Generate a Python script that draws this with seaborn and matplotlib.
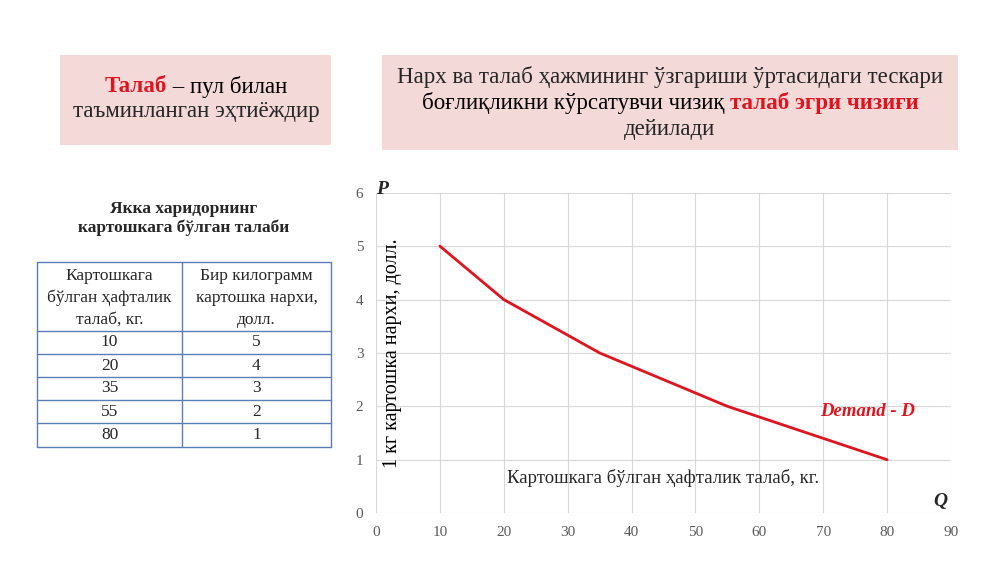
import matplotlib
matplotlib.use("Agg")
import matplotlib.pyplot as plt
import seaborn as sns
import pandas as pd
from matplotlib.patches import Rectangle

# data
quantity = [10, 20, 35, 55, 80]
price = [5, 4, 3, 2, 1]
x_ticks = list(range(0, 100, 10))
y_ticks = list(range(0, 7))

sns.set_theme(style="whitegrid")
plt.rcParams['font.family'] = ['Liberation Serif', 'DejaVu Serif']

RED = "#e0141e"
PINK = "#f4d9d9"
BLUE = "#5a7fb8"

fig = plt.figure(figsize=(10, 5.62), dpi=100)
W, H = 1000, 562

def fx(px):
    return px / W

def fy(py):
    return 1 - py / H

def two_part(x_center, y, black, red, size, red_first=False):
    # draws black+red text on one line, centred at x_center
    r = fig.canvas.get_renderer()
    parts = [(red, RED, "bold"), (black, "black", "normal")] if red_first else \
            [(black, "black", "normal"), (red, RED, "bold")]
    widths = []
    for s, c, w in parts:
        t = fig.text(0, 0, s, fontsize=size, fontweight=w)
        widths.append(t.get_window_extent(r).width)
        t.remove()
    x = x_center * W - sum(widths) / 2
    for (s, c, w), wd in zip(parts, widths):
        fig.text(x / W, fy(y), s, color=c, fontsize=size, fontweight=w, ha="left", va="center")
        x += wd

# pink header boxes
fig.patches.append(Rectangle((fx(60), fy(145)), fx(271), 90 / H, transform=fig.transFigure,
                             facecolor=PINK, edgecolor="none", zorder=0))
fig.patches.append(Rectangle((fx(382), fy(150)), fx(576), 95 / H, transform=fig.transFigure,
                             facecolor=PINK, edgecolor="none", zorder=0))
two_part(fx(196), 87, " – пул билан", "Талаб", 16.5, red_first=True)
fig.text(fx(196), fy(111), "таъминланган эҳтиёждир", fontsize=16.5, ha="center", va="center")
fig.text(fx(670), fy(77), "Нарх ва талаб ҳажмининг ўзгариши ўртасидаги тескари", fontsize=16.5, ha="center", va="center")
two_part(fx(670), 103, "боғлиқликни кўрсатувчи чизиқ ", "талаб эгри чизиғи", 16.5)
fig.text(fx(670), fy(129), "дейилади", fontsize=16.5, ha="center", va="center")

# table
fig.text(fx(184), fy(209), "Якка харидорнинг", fontsize=12.5, fontweight="bold", ha="center", va="center")
fig.text(fx(184), fy(228), "картошкага бўлган талаби", fontsize=12.5, fontweight="bold", ha="center", va="center")
rows_y = [262, 331, 354, 377, 400, 423, 447]
xl, xm, xr = 37, 182, 331
for y in rows_y:
    fig.lines.append(plt.Line2D([fx(xl), fx(xr)], [fy(y), fy(y)], transform=fig.transFigure, color=BLUE, lw=1))
for x in (xl, xm, xr):
    fig.lines.append(plt.Line2D([fx(x), fx(x)], [fy(262), fy(447)], transform=fig.transFigure, color=BLUE, lw=1))
for i, t in enumerate(["Картошкага", "бўлган ҳафталик", "талаб, кг."]):
    fig.text(fx((xl + xm) / 2), fy(276 + i * 22), t, fontsize=12.5, ha="center", va="center")
for i, t in enumerate(["Бир килограмм", "картошка нархи,", "долл."]):
    fig.text(fx((xm + xr) / 2), fy(276 + i * 22), t, fontsize=12.5, ha="center", va="center")
for i, (q, p) in enumerate(zip(quantity, price)):
    yc = (rows_y[i + 1] + rows_y[i + 2]) / 2
    fig.text(fx((xl + xm) / 2), fy(yc), str(q), fontsize=12.5, ha="center", va="center")
    fig.text(fx((xm + xr) / 2), fy(yc), str(p), fontsize=12.5, ha="center", va="center")

# chart
ax = fig.add_axes([0.376, 0.087, 0.575, 0.57])
df = pd.DataFrame({"Q": quantity, "P": price})
sns.lineplot(data=df, x="Q", y="P", ax=ax, color=RED, lw=2)
ax.set_xlim(0, 90)
ax.set_ylim(0, 6)
ax.set_xticks(x_ticks)
ax.set_yticks(y_ticks)
ax.tick_params(labelsize=11, colors="#595959", pad=3)
ax.grid(color="#d9d9d9", lw=0.8)
for s in ax.spines.values():
    s.set_visible(False)
ax.set_xlabel("")
ax.set_ylabel("1 кг картошка нархи, долл.", fontsize=14.5, color="black", labelpad=0)
ax.yaxis.set_label_coords(0.045, 0.5)
ax.text(45, 0.65, "Картошкага бўлган ҳафталик талаб, кг.", fontsize=13.5, ha="center", va="center")
ax.text(69.5, 1.9, "Demand - D", color=RED, fontsize=13.5, fontweight="bold", style="italic", ha="left", va="center")
ax.text(89.5, 0.05, "Q", fontsize=14, fontweight="bold", style="italic", ha="right", va="bottom", clip_on=False)
ax.text(0.0, 5.9, "P", fontsize=14, fontweight="bold", style="italic", ha="left", va="bottom", clip_on=False)

fig.savefig("out.png", dpi=100, facecolor="white")
